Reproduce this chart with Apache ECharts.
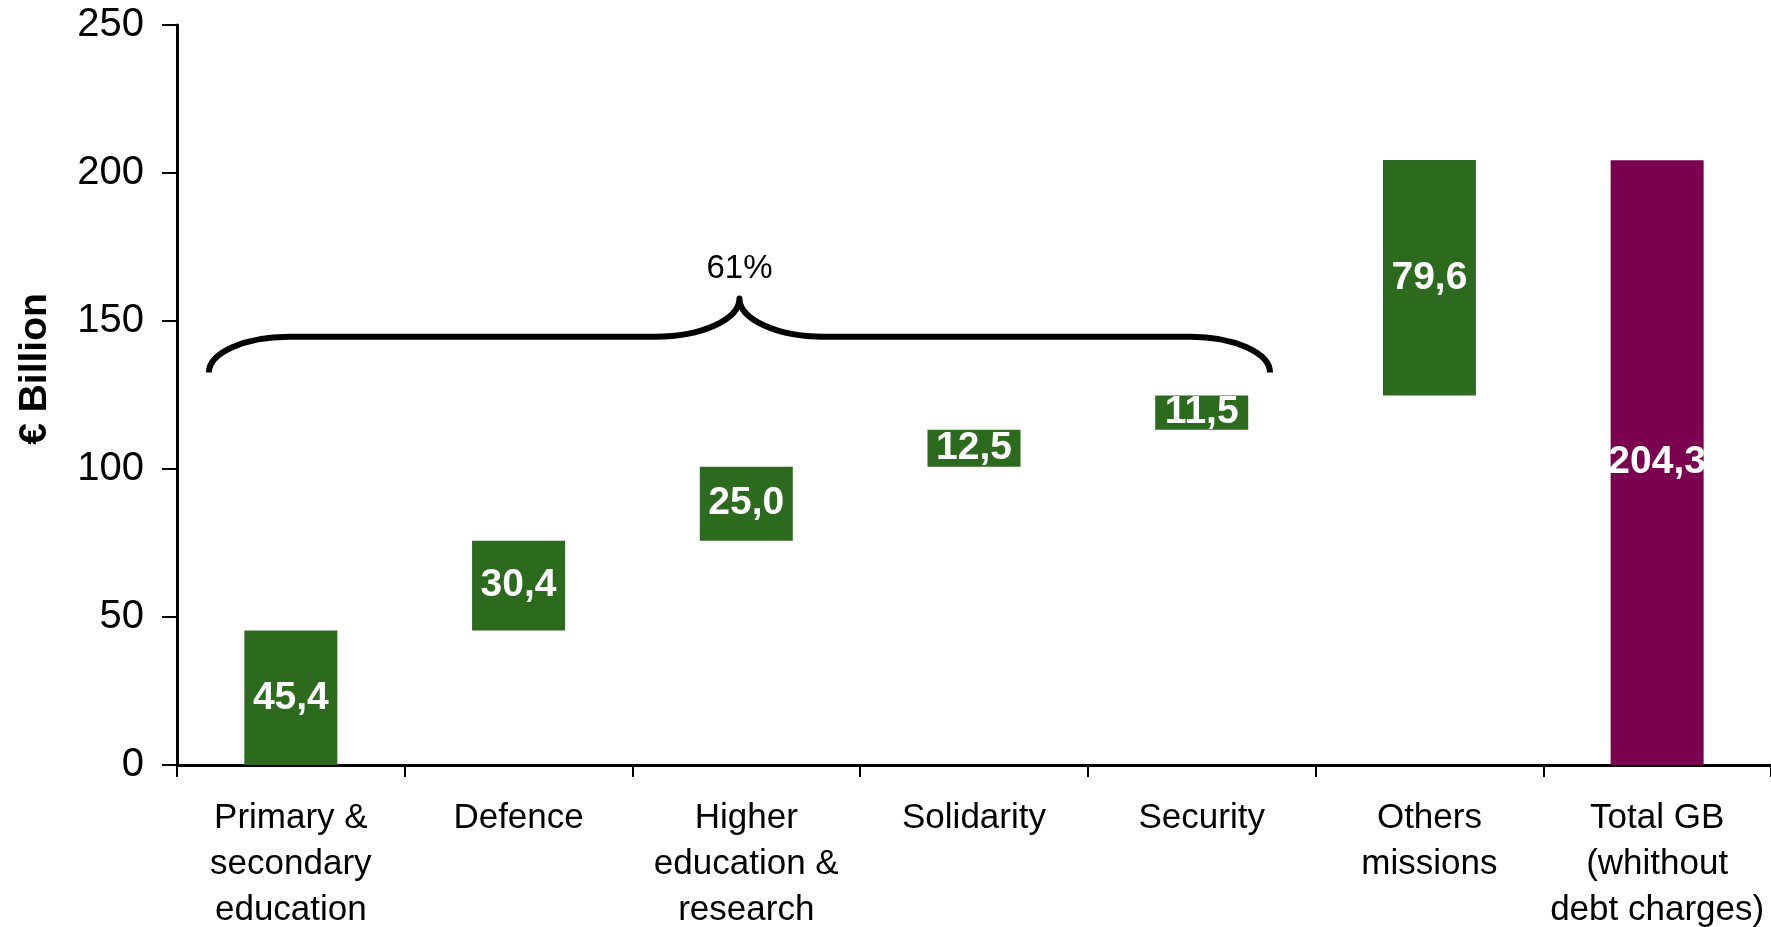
<!DOCTYPE html>
<html>
<head>
<meta charset="utf-8">
<script src="https://cdn.jsdelivr.net/npm/echarts@6/dist/echarts.min.js"></script>
<style>
html,body{margin:0;padding:0;background:#fff;}
#chart{width:1771px;height:927px;}
</style>
</head>
<body>
<div id="chart"></div>
<script>
// ---- data ----
var categories = [
  'Primary &\nsecondary\neducation',
  'Defence',
  'Higher\neducation &\nresearch',
  'Solidarity',
  'Security',
  'Others\nmissions',
  'Total GB\n(whithout\ndebt charges)'
];
var values = [45.4, 30.4, 25.0, 12.5, 11.5, 79.6, 204.3];
var isTotal = [false, false, false, false, false, false, true];
var yTicks = [0, 50, 100, 150, 200, 250];
var bracedCount = 5; // first five missions grouped by the brace

// ---- derived waterfall bases ----
var bases = [];
var run = 0;
for (var i = 0; i < values.length; i++) {
  if (isTotal[i]) { bases.push(0); }
  else { bases.push(run); run += values[i]; }
}
var bracedSum = 0;
for (var j = 0; j < bracedCount; j++) bracedSum += values[j];
var totalVal = values[values.length - 1];
var bracePct = Math.round(bracedSum / totalVal * 100) + '%';

var GREEN = '#2C6A1E', PURPLE = '#7C0050';
var FONT = '"Liberation Sans", Arial, Helvetica, sans-serif';

var chart = echarts.init(document.getElementById('chart'), null, {renderer: 'canvas'});

var option = {
  backgroundColor: '#ffffff',
  animation: false,
  grid: {left: 177, right: 0, top: 25, bottom: 162, containLabel: false, outerBoundsMode: 'none'},
  xAxis: {
    type: 'category',
    data: categories,
    boundaryGap: true,
    axisLine: {show: true, lineStyle: {color: '#000', width: 3}},
    axisTick: {show: true, alignWithLabel: false, length: 12, lineStyle: {color: '#000', width: 2}},
    axisLabel: {
      interval: 0, margin: 30, color: '#000',
      fontFamily: FONT, fontSize: 35, lineHeight: 46
    },
    splitLine: {show: false}
  },
  yAxis: {
    type: 'value',
    min: yTicks[0], max: yTicks[yTicks.length - 1], interval: 50,
    name: '€ Billion',
    nameLocation: 'middle', nameRotate: 90, nameGap: 122,
    nameTextStyle: {fontFamily: FONT, fontSize: 39, fontWeight: 'bold', color: '#000', padding: [0, 0, 0, 52]},
    axisLine: {show: true, lineStyle: {color: '#000', width: 3}},
    axisTick: {show: true, inside: false, length: 15, lineStyle: {color: '#000', width: 2}},
    axisLabel: {margin: 33, color: '#000', fontFamily: FONT, fontSize: 40},
    splitLine: {show: false}
  },
  series: [
    {
      name: 'base', type: 'bar', stack: 'wf', silent: true,
      barWidth: 93,
      itemStyle: {color: 'transparent'},
      data: bases
    },
    {
      name: 'value', type: 'bar', stack: 'wf',
      barWidth: 93,
      data: values.map(function (v, i) {
        return {value: v, itemStyle: {color: isTotal[i] ? PURPLE : GREEN}};
      }),
      label: {
        show: true, position: 'inside', color: '#fff',
        fontFamily: FONT, fontWeight: 'bold', fontSize: 39,
        formatter: function (p) { return p.value.toFixed(1).replace('.', ','); }
      }
    },
    {
      name: 'brace', type: 'custom', silent: true, z: 5,
      data: [[0, 0]],
      renderItem: function (params, api) {
        var band = api.size([1, 0])[0];
        var x0 = api.coord([0, 0])[0];
        var xN = api.coord([bracedCount - 1, 0])[0];
        var L = x0 - 0.36 * band;
        var R = xN + 0.30 * band;
        var C = (L + R) / 2;
        var yEnd = api.coord([0, 132.6])[1];
        var yMid = api.coord([0, 144.7])[1];
        var yPeak = api.coord([0, 157.6])[1];
        var yTxt = api.coord([0, 167.5])[1];
        var hw = 0.35 * band, mw = 0.37 * band, k = 0.55;
        var d = 'M' + L + ' ' + yEnd +
          ' C' + L + ' ' + (yEnd - k * (yEnd - yMid)) + ' ' + (L + hw - k * hw) + ' ' + yMid + ' ' + (L + hw) + ' ' + yMid +
          ' L' + (C - mw) + ' ' + yMid +
          ' C' + (C - mw + k * mw) + ' ' + yMid + ' ' + C + ' ' + (yPeak + k * (yMid - yPeak)) + ' ' + C + ' ' + yPeak +
          ' C' + C + ' ' + (yPeak + k * (yMid - yPeak)) + ' ' + (C + mw - k * mw) + ' ' + yMid + ' ' + (C + mw) + ' ' + yMid +
          ' L' + (R - hw) + ' ' + yMid +
          ' C' + (R - hw + k * hw) + ' ' + yMid + ' ' + R + ' ' + (yEnd - k * (yEnd - yMid)) + ' ' + R + ' ' + yEnd;
        return {
          type: 'group',
          children: [
            {type: 'path', shape: {pathData: d},
             style: {fill: null, stroke: '#000', lineWidth: 6, lineJoin: 'round'}},
            {type: 'text', x: C, y: yTxt,
             style: {text: bracePct, fontFamily: FONT, fontSize: 33, fill: '#000',
                     align: 'center', verticalAlign: 'middle'}}
          ]
        };
      }
    }
  ]
};
chart.setOption(option);
</script>
</body>
</html>
